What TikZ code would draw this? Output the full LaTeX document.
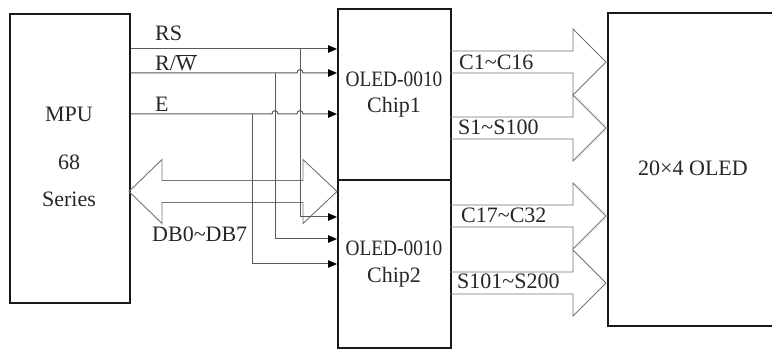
\documentclass[tikz,border=0pt]{standalone}
\usepackage{fontspec}
\usepackage{graphicx}
\setmainfont{Liberation Serif}
\usetikzlibrary{arrows.meta}
\begin{document}
\begin{tikzpicture}[x=1pt,y=-1pt,
  box/.style={draw=black!90, line width=1.6pt, inner sep=0pt, anchor=north west},
  lbl/.style={font=\fontsize{22}{24}\selectfont, text=black!85, inner sep=0pt, anchor=base},
  lbll/.style={lbl, anchor=base west},
  sig/.style={draw=black!65, line width=1pt},
  sigarr/.style={sig, -{Triangle[length=9pt,width=7.5pt,color=black]}},
  bus/.style={draw=black!55, line width=0.9pt}
]
\useasboundingbox (0,0) rectangle (772,350);

% boxes
\node[box, minimum width=120pt, minimum height=289pt] (mpu) at (9,13) {};
\node[box, minimum width=113pt, minimum height=171pt] (chip1) at (337,8) {};
\node[box, minimum width=113pt, minimum height=168pt] (chip2) at (337,179) {};
\node[box, minimum width=170pt, minimum height=313pt] (oled) at (607,12) {};

% box texts
\node[lbl] (mputxt) at (69,122) {MPU};
\node[lbl] (m68) at (69,170) {68};
\node[lbl] (mser) at (69,207) {Series};
\node[lbl] (c1a) at (394,87) {\scalebox{0.88}[1]{OLED-0010}};
\node[lbl] (c1b) at (394,113) {Chip1};
\node[lbl] (c2a) at (394,255) {\scalebox{0.88}[1]{OLED-0010}};
\node[lbl] (c2b) at (394,282) {Chip2};
\node[lbl] (otxt) at (693,176) {20×4 OLED};

% bus arrow
\coordinate (busL) at (129,191.5);
\coordinate (busR) at (337,191.5);
\draw[bus] (busL) -- (162,159.5) -- (162,180.5) -- (303,180.5) -- (303,159.5)
  -- (busR) -- (303,223.5) -- (303,202.5) -- (162,202.5) -- (162,223.5) -- cycle;

% control signals
\coordinate (rs0) at ([yshift=-36pt]mpu.north east);
\coordinate (rw0) at ([yshift=-60pt]mpu.north east);
\coordinate (e0)  at ([yshift=-101pt]mpu.north east);
\draw[sigarr] (rs0) -- (rs0 -| chip1.west);
\draw[sigarr] (rw0) -- (297,73) .. controls (297,68.5) and (303,68.5) .. (303,73)
  -- (rw0 -| chip1.west);
\draw[sigarr] (e0) -- (272,114) .. controls (272,109.5) and (278,109.5) .. (278,114)
  -- (297,114) .. controls (297,109.5) and (303,109.5) .. (303,114)
  -- (e0 -| chip1.west);

\coordinate (vrs) at (300,49);
\coordinate (trs) at (300,217);
\coordinate (vrw) at (275,73);
\coordinate (trw) at (275,239);
\coordinate (ve) at (252,114);
\coordinate (te) at (252,264);
\draw[sigarr] (vrs) -- (trs) -- (trs -| chip2.west);
\draw[sigarr] (vrw) -- (trw) -- (trw -| chip2.west);
\draw[sigarr] (ve) -- (te) -- (te -| chip2.west);

% signal labels
\node[lbll] (lrs) at (155,41) {RS};
\node[lbll] (lrw) at (155,71) {R/$\overline{\hbox{W}}$};
\node[lbll] (le) at (155,112) {E};
\node[lbll] (ldb) at (152,242) {DB0\textasciitilde DB7};

% output bus arrows
\foreach \c in {62,128,216,283}{
  \draw[bus] (450,\c-11) -- (573,\c-11) -- (573,\c-33) -- (606,\c)
    -- (573,\c+33) -- (573,\c+11) -- (450,\c+11);
}
\node[lbll] (lc1) at (459,70) {C1\textasciitilde C16};
\node[lbll] (ls1) at (458,135) {S1\textasciitilde S100};
\node[lbll] (lc17) at (461,223) {C17\textasciitilde C32};
\node[lbll] (ls101) at (457,288) {S101\textasciitilde S200};
\end{tikzpicture}
\end{document}
